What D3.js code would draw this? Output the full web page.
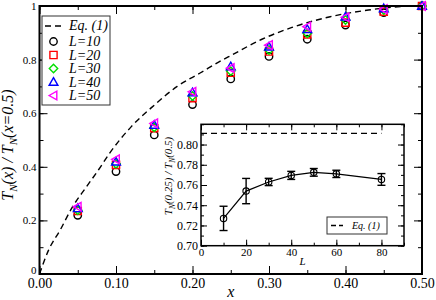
<!DOCTYPE html>
<html>
<head>
<meta charset="utf-8">
<style>
  body { margin: 0; background: #fff; }
  svg, svg text { font-family: "Liberation Serif", "Times New Roman", "DejaVu Serif", serif !important; }
</style>
</head>
<body>
<svg width="436" height="300"></svg>
<script src="https://d3js.org/d3.v7.min.js"></script>
<script>

// main panel data
var xs = [0.05, 0.10, 0.15, 0.20, 0.25, 0.30, 0.35, 0.40, 0.45, 0.50];
var L10 = [0.219, 0.382, 0.519, 0.632, 0.728, 0.812, 0.876, 0.929, 0.975, 1.0];
var L20 = [0.235, 0.407, 0.544, 0.656, 0.751, 0.830, 0.894, 0.938, 0.979, 1.0];
var L30 = [0.238, 0.411, 0.547, 0.664, 0.757, 0.836, 0.898, 0.948, 0.985, 1.0];
var L40 = [0.245, 0.419, 0.556, 0.677, 0.774, 0.848, 0.913, 0.960, 0.991, 1.0];
var L50 = [0.251, 0.428, 0.562, 0.680, 0.768, 0.854, 0.923, 0.958, 0.988, 1.0];
var seriesNames = ["L=10", "L=20", "L=30", "L=40", "L=50"];
var seriesColors = ["#000000", "#ff0000", "#00e000", "#0000ff", "#ff00ff"];
var seriesShapes = ["circle", "square", "diamond", "up", "left"];

// Eq. (1) curve
var eqX = [0, 0.012, 0.027, 0.042, 0.06, 0.077, 0.092, 0.12, 0.15, 0.18, 0.21, 0.24, 0.25, 0.29, 0.33, 0.38, 0.43, 0.48, 0.5];
var eqY = [0, 0.09, 0.164, 0.245, 0.32, 0.388, 0.452, 0.55, 0.63, 0.70, 0.75, 0.80, 0.815, 0.875, 0.92, 0.96, 0.985, 0.999, 1.0];

var xTicks = [0, 0.1, 0.2, 0.3, 0.4, 0.5];
var xTickLabels = ["0.00", "0.10", "0.20", "0.30", "0.40", "0.50"];
var yTicks = [0, 0.2, 0.4, 0.6, 0.8, 1];
var yTickLabels = ["0", "0.2", "0.4", "0.6", "0.8", "1"];

// inset data
var insetL = [10, 20, 30, 40, 50, 60, 80];
var insetRatio = [0.727, 0.754, 0.763, 0.7695, 0.7725, 0.771, 0.7655];
var insetErr = [0.012, 0.0125, 0.0036, 0.004, 0.0038, 0.0036, 0.0058];
var insetEqL = [0, 80];
var insetEqY = [0.811, 0.811];
var insetXTicks = [0, 20, 40, 60, 80];
var insetYTicks = [0.70, 0.72, 0.74, 0.76, 0.78, 0.80];

var svg = d3.select("svg");

var x = d3.scaleLinear().domain([0, 0.5]).range([39.5, 422]),
    y = d3.scaleLinear().domain([0, 1]).range([274, 6]);

function shapePath(shape, cx, cy) {
  var s = 3.6;
  if (shape === "square") return "M" + (cx - s) + "," + (cy - s) + "h" + 2 * s + "v" + 2 * s + "h" + -2 * s + "Z";
  if (shape === "diamond") { var d = 4.2; return "M" + cx + "," + (cy - d) + "L" + (cx + d) + "," + cy + "L" + cx + "," + (cy + d) + "L" + (cx - d) + "," + cy + "Z"; }
  if (shape === "up") { var t = 4.4; return "M" + cx + "," + (cy - t) + "L" + (cx + t) + "," + (cy + t * 0.75) + "L" + (cx - t) + "," + (cy + t * 0.75) + "Z"; }
  if (shape === "left") { var t2 = 4.4; return "M" + (cx - t2) + "," + cy + "L" + (cx + t2 * 0.75) + "," + (cy - t2) + "L" + (cx + t2 * 0.75) + "," + (cy + t2) + "Z"; }
  return null;
}

function drawMarker(g, shape, color, cx, cy) {
  if (shape === "circle") {
    g.append("circle").attr("cx", cx).attr("cy", cy).attr("r", 3.7)
      .attr("fill", "none").attr("stroke", color).attr("stroke-width", 1.4);
  } else {
    g.append("path").attr("d", shapePath(shape, cx, cy))
      .attr("fill", "none").attr("stroke", color).attr("stroke-width", 1.4);
  }
}

// axes (inward ticks)
function styleAxis(sel, fs) {
  sel.attr("font-family", null);
  sel.select(".domain").remove();
  sel.selectAll(".tick line").attr("stroke", "#000").attr("stroke-width", 1);
  sel.selectAll(".tick text").attr("font-size", fs).attr("fill", "#000");
}

var xMinor = d3.range(0, 0.5001, 0.05);
var yMinor = d3.range(0, 1.0001, 0.1);

svg.append("g").attr("transform", "translate(0,274)")
  .call(d3.axisBottom(x).tickValues(xMinor).tickSize(-4).tickFormat(""))
  .call(styleAxis, 14);
svg.append("g").attr("transform", "translate(0,274)")
  .call(d3.axisBottom(x).tickValues(xTicks).tickSize(-8).tickPadding(4)
    .tickFormat(function(d, i) { return xTickLabels[i]; }))
  .call(styleAxis, 14);
svg.append("g").attr("transform", "translate(0,6)")
  .call(d3.axisTop(x).tickValues(xMinor).tickSize(-4).tickFormat(""))
  .call(styleAxis, 14);
svg.append("g").attr("transform", "translate(0,6)")
  .call(d3.axisTop(x).tickValues(xTicks).tickSize(-8).tickFormat(""))
  .call(styleAxis, 14);
svg.append("g").attr("transform", "translate(39.5,0)")
  .call(d3.axisLeft(y).tickValues(yMinor).tickSize(-4).tickFormat(""))
  .call(styleAxis, 11);
var yAxisG = svg.append("g").attr("transform", "translate(39.5,0)")
  .call(d3.axisLeft(y).tickValues(yTicks).tickSize(-8).tickPadding(3)
    .tickFormat(function(d, i) { return yTickLabels[i]; }))
  .call(styleAxis, 11);
// the "0" label sits just above the x-axis labels
yAxisG.selectAll(".tick text").filter(function(d) { return d === 0; }).attr("dy", "-0.05em");
svg.append("g").attr("transform", "translate(422,0)")
  .call(d3.axisRight(y).tickValues(yMinor).tickSize(-4).tickFormat(""))
  .call(styleAxis, 11);
svg.append("g").attr("transform", "translate(422,0)")
  .call(d3.axisRight(y).tickValues(yTicks).tickSize(-8).tickFormat(""))
  .call(styleAxis, 11);

// Eq. (1) dashed curve
var eqPts = eqX.map(function(v, i) { return [v, eqY[i]]; });
svg.append("path")
  .attr("d", d3.line().x(function(d) { return x(d[0]); }).y(function(d) { return y(d[1]); })
    .curve(d3.curveMonotoneX)(eqPts))
  .attr("fill", "none").attr("stroke", "#000").attr("stroke-width", 1.4)
  .attr("stroke-dasharray", "6,4");

// markers
var allSeries = [L10, L20, L30, L40, L50];
var mk = svg.append("g");
allSeries.forEach(function(vals, si) {
  vals.forEach(function(v, i) {
    drawMarker(mk, seriesShapes[si], seriesColors[si], x(xs[i]), y(v));
  });
});

// frame
svg.append("rect").attr("x", x(0)).attr("y", y(1))
  .attr("width", x(0.5) - x(0)).attr("height", y(0) - y(1))
  .attr("fill", "none").attr("stroke", "#000").attr("stroke-width", 2);

// main legend
var lg = svg.append("g");
lg.append("rect").attr("x", 42).attr("y", 16).attr("width", 68).attr("height", 89)
  .attr("fill", "#fff").attr("stroke", "#333").attr("stroke-width", 1);
lg.append("line").attr("x1", 45).attr("x2", 61).attr("y1", 26).attr("y2", 26)
  .attr("stroke", "#000").attr("stroke-width", 1.4).attr("stroke-dasharray", "6,4");
lg.append("text").attr("x", 69).attr("y", 30).attr("font-size", 14).attr("font-style", "italic").text("Eq. (1)");
seriesNames.forEach(function(nm, i) {
  var yy = 41.5 + i * 13.5;
  drawMarker(lg, seriesShapes[i], seriesColors[i], 53.5, yy);
  lg.append("text").attr("x", 69).attr("y", yy + 4.5).attr("font-size", 14).attr("font-style", "italic").text(nm);
});

// axis titles
svg.append("text").attr("x", x(0.25)).attr("y", 297).attr("text-anchor", "middle")
  .attr("font-size", 16).attr("font-style", "italic").text("x");
var yt = svg.append("text").attr("transform", "translate(13,145) rotate(-90)")
  .attr("text-anchor", "middle").attr("font-size", 16).attr("font-style", "italic");
yt.append("tspan").text("T");
yt.append("tspan").attr("font-size", 11).attr("dy", 4).text("N");
yt.append("tspan").attr("dy", -4).text("(x) / T");
yt.append("tspan").attr("font-size", 11).attr("dy", 4).text("N");
yt.append("tspan").attr("dy", -4).text("(x=0.5)");

// ---------- inset ----------
var ix = d3.scaleLinear().domain([0, 90]).range([201, 404]),
    iy = d3.scaleLinear().domain([0.70, 0.82]).range([245.7, 124.3]);

svg.append("rect").attr("x", ix(0)).attr("y", iy(0.82))
  .attr("width", ix(90) - ix(0)).attr("height", iy(0.70) - iy(0.82))
  .attr("fill", "#fff");

var ixMinor = d3.range(0, 90.01, 10),
    iyMinor = d3.range(0.70, 0.8201, 0.01);

svg.append("g").attr("transform", "translate(0," + iy(0.70) + ")")
  .call(d3.axisBottom(ix).tickValues(ixMinor).tickSize(-3).tickFormat(""))
  .call(styleAxis, 10);
svg.append("g").attr("transform", "translate(0," + iy(0.70) + ")")
  .call(d3.axisBottom(ix).tickValues(insetXTicks).tickSize(-6).tickPadding(3)
    .tickFormat(d3.format("d")))
  .call(styleAxis, 11);
svg.append("g").attr("transform", "translate(0," + iy(0.82) + ")")
  .call(d3.axisTop(ix).tickValues(ixMinor).tickSize(-3).tickFormat(""))
  .call(styleAxis, 10);
svg.append("g").attr("transform", "translate(0," + iy(0.82) + ")")
  .call(d3.axisTop(ix).tickValues(insetXTicks).tickSize(-6).tickFormat(""))
  .call(styleAxis, 10);
svg.append("g").attr("transform", "translate(" + ix(0) + ",0)")
  .call(d3.axisLeft(iy).tickValues(iyMinor).tickSize(-3).tickFormat(""))
  .call(styleAxis, 11);
svg.append("g").attr("transform", "translate(" + ix(0) + ",0)")
  .call(d3.axisLeft(iy).tickValues(insetYTicks).tickSize(-6).tickPadding(3)
    .tickFormat(d3.format(".2f")))
  .call(styleAxis, 12);
svg.append("g").attr("transform", "translate(" + ix(90) + ",0)")
  .call(d3.axisRight(iy).tickValues(iyMinor).tickSize(-3).tickFormat(""))
  .call(styleAxis, 11);
svg.append("g").attr("transform", "translate(" + ix(90) + ",0)")
  .call(d3.axisRight(iy).tickValues(insetYTicks).tickSize(-6).tickFormat(""))
  .call(styleAxis, 11);

// inset dashed Eq. (1)
svg.append("line").attr("x1", ix(insetEqL[0])).attr("x2", ix(insetEqL[1]))
  .attr("y1", iy(insetEqY[0])).attr("y2", iy(insetEqY[1]))
  .attr("stroke", "#000").attr("stroke-width", 1.3).attr("stroke-dasharray", "6,4");

// inset line + error bars
var ipts = insetL.map(function(l, i) { return [l, insetRatio[i], insetErr[i]]; });
svg.append("path")
  .attr("d", d3.line().x(function(d) { return ix(d[0]); }).y(function(d) { return iy(d[1]); })(ipts))
  .attr("fill", "none").attr("stroke", "#000").attr("stroke-width", 1.2);
var eb = svg.append("g").attr("stroke", "#000").attr("stroke-width", 1.4);
ipts.forEach(function(d) {
  var cx = ix(d[0]), t = iy(d[1] + d[2]), b = iy(d[1] - d[2]);
  eb.append("line").attr("x1", cx).attr("x2", cx).attr("y1", t).attr("y2", b);
  eb.append("line").attr("x1", cx - 4).attr("x2", cx + 4).attr("y1", t).attr("y2", t);
  eb.append("line").attr("x1", cx - 4).attr("x2", cx + 4).attr("y1", b).attr("y2", b);
  eb.append("circle").attr("cx", cx).attr("cy", iy(d[1])).attr("r", 3.2)
    .attr("fill", "none").attr("stroke-width", 1.1);
});

svg.append("rect").attr("x", ix(0)).attr("y", iy(0.82))
  .attr("width", ix(90) - ix(0)).attr("height", iy(0.70) - iy(0.82))
  .attr("fill", "none").attr("stroke", "#000").attr("stroke-width", 1.5);

// inset legend
var il = svg.append("g");
il.append("rect").attr("x", 327).attr("y", 217).attr("width", 60).attr("height", 17)
  .attr("fill", "#fff").attr("stroke", "#333").attr("stroke-width", 1);
il.append("line").attr("x1", 331).attr("x2", 343).attr("y1", 225.5).attr("y2", 225.5)
  .attr("stroke", "#000").attr("stroke-width", 1.3).attr("stroke-dasharray", "5,3");
il.append("text").attr("x", 352).attr("y", 229).attr("font-size", 10).attr("font-style", "italic").text("Eq. (1)");

// inset titles
svg.append("text").attr("x", ix(45)).attr("y", 265).attr("text-anchor", "middle")
  .attr("font-size", 11).attr("font-style", "italic").text("L");
var iyt = svg.append("text").attr("transform", "translate(172,176) rotate(-90)")
  .attr("text-anchor", "middle").attr("font-size", 11).attr("font-style", "italic");
iyt.append("tspan").text("T");
iyt.append("tspan").attr("font-size", 7.5).attr("dy", 3).text("N");
iyt.append("tspan").attr("dy", -3).text("(0.25) / T");
iyt.append("tspan").attr("font-size", 7.5).attr("dy", 3).text("N");
iyt.append("tspan").attr("dy", -3).text("(0.5)");

</script>
</body>
</html>
